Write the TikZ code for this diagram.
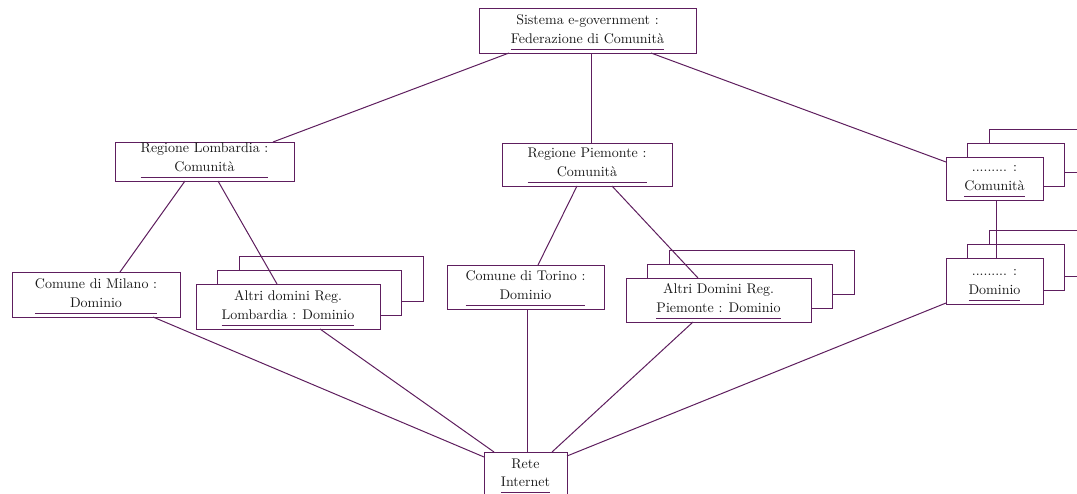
\documentclass[tikz,border=0pt]{standalone}
\usetikzlibrary{calc}
\definecolor{pc}{RGB}{94,30,94}
\tikzset{
 ubox/.style={draw=pc, line width=0.7pt, fill=white, inner sep=0pt, outer sep=0pt},
 utxt/.style={inner sep=0pt, outer sep=0pt, font=\fontsize{10.5}{14}\selectfont, text=black!90},
 uline/.style={draw=pc, line width=0.7pt},
 conn/.style={draw=pc, line width=0.75pt},
}
\newcommand{\ubx}[5]{\node[ubox, minimum width={(#4-#2)*0.75pt}, minimum height={(#5-#3)*0.75pt}] (#1) at ({(#2+#4)/2},{(#3+#5)/2}) {};}
\newcommand{\utx}[2]{\node[utxt, anchor=south] (#1-t) at ($(#1.south)+(0,-4)$) {\begin{tabular}{@{}c@{}}#2\end{tabular}};
  \draw[uline] (#1-t.south west) -- (#1-t.south east);}
\begin{document}
\begin{tikzpicture}[x=0.75pt,y=-0.75pt]
\useasboundingbox (0,0) rectangle (1077,493);
\clip (0,0) rectangle (1077,493);
% stacked back boxes
\ubx{altriLb}{239}{256}{423}{301}
\ubx{altriLm}{217.5}{270}{401.5}{315}
\ubx{altriPb}{669}{250}{854}{294}
\ubx{altriPm}{647.5}{264}{832.5}{308}
\ubx{comXb}{989}{129}{1086}{172}
\ubx{comXm}{967.5}{143}{1064.5}{186}
\ubx{domXb}{989}{230}{1086}{276}
\ubx{domXm}{967.5}{244}{1064.5}{290}
% front boxes
\ubx{top}{479}{8}{696}{53}
\ubx{lomb}{115}{142}{294}{181}
\ubx{piem}{502}{143}{672}{186}
\ubx{comX}{946}{157}{1043}{200}
\ubx{milano}{12}{272}{180}{317}
\ubx{altriL}{196}{284}{380}{329}
\ubx{torino}{447}{265}{604}{309}
\ubx{altriP}{626}{278}{811}{322}
\ubx{domX}{946}{258}{1043}{304}
\ubx{internet}{484}{452}{567}{496.5}
% connectors
\draw[conn] ($(top.south west)+(30,0)$) -- ($(lomb.north east)+(-21,0)$);
\draw[conn] ($(top.south west)+(112,0)$) -- ($(piem.north west)+(89,0)$);
\draw[conn] ($(top.south west)+(172,0)$) -- ($(comX.north west)+(0,5)$);
\draw[conn] ($(lomb.south west)+(70,0)$) -- ($(milano.north west)+(108,0)$);
\draw[conn] ($(lomb.south west)+(103,0)$) -- ($(altriL.north west)+(81,0)$);
\draw[conn] ($(piem.south west)+(75,0)$) -- ($(torino.north west)+(91,0)$);
\draw[conn] ($(piem.south west)+(110,0)$) -- ($(altriP.north west)+(72,0)$);
\draw[conn] ($(comX.south west)+(50,0)$) -- ($(domX.north west)+(50,0)$);
\draw[conn] ($(milano.south west)+(141,0)$) -- ($(internet.north west)+(0,5)$);
\draw[conn] ($(altriL.south west)+(124,0)$) -- ($(internet.north west)+(10,0)$);
\draw[conn] ($(torino.south west)+(80,0)$) -- ($(internet.north west)+(43,0)$);
\draw[conn] ($(altriP.south west)+(67,0)$) -- ($(internet.north west)+(68,0)$);
\draw[conn] ($(domX.south west)+(0,-1)$) -- ($(internet.north east)+(0,4)$);
% texts
\utx{top}{Sistema e-government :\\Federazione di Comunità}
\utx{lomb}{Regione Lombardia :\\Comunità}
\utx{piem}{Regione Piemonte :\\Comunità}
\utx{comX}{......... :\\Comunità}
\utx{milano}{Comune di Milano :\\Dominio}
\utx{altriL}{Altri domini Reg.\\Lombardia : Dominio}
\utx{torino}{Comune di Torino :\\Dominio}
\utx{altriP}{Altri Domini Reg.\\Piemonte : Dominio}
\utx{domX}{......... :\\Dominio}
\utx{internet}{Rete\\Internet}
\end{tikzpicture}
\end{document}
